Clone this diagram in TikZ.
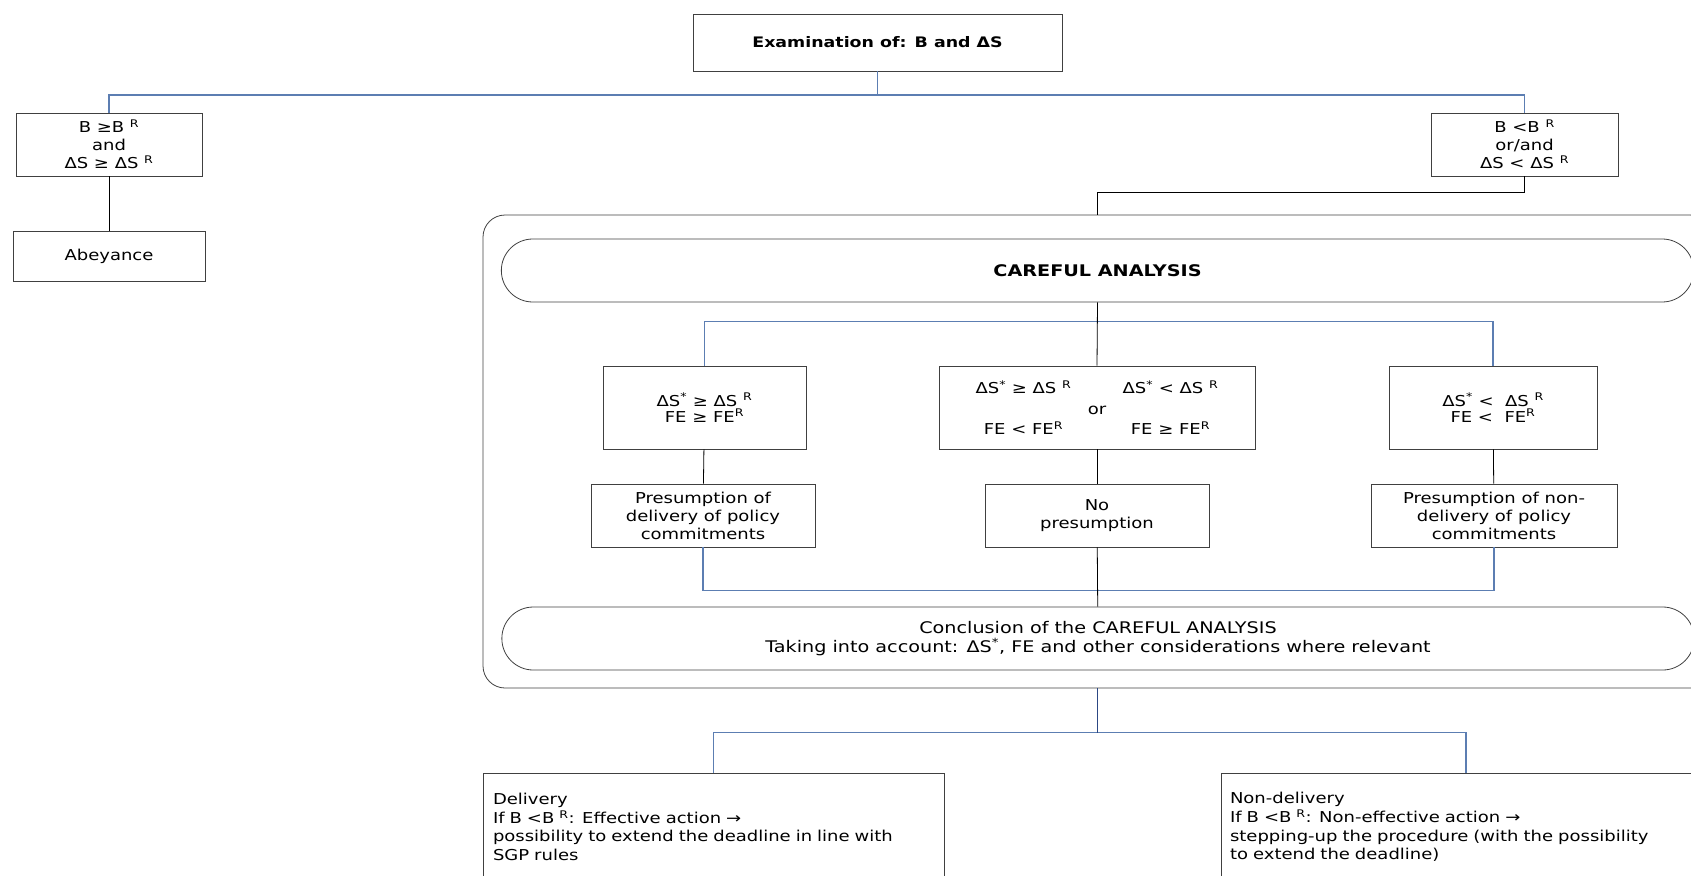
\documentclass[tikz,border=0pt]{standalone}
\usepackage{fontspec}
\setmainfont{DejaVu Sans}[FakeStretch=1.2]
\usetikzlibrary{positioning,shapes.misc}
\definecolor{linkblue}{RGB}{92,126,178}
\definecolor{darkblue}{RGB}{44,72,132}
\definecolor{edgegray}{RGB}{64,64,64}

\begin{document}
\begin{tikzpicture}[x=1pt, y=-1pt,
  cbox/.style={draw=edgegray, line width=0.8pt, align=center, inner sep=2pt, font=\fontsize{15}{18}\selectfont},
  pill/.style={draw=edgegray, line width=0.8pt, rounded rectangle, minimum width=1199pt, minimum height=63pt, align=center},
  outcome/.style={draw=edgegray, line width=0.8pt, align=left, inner sep=0pt, minimum height=108pt, font=\fontsize{15}{18.7}\selectfont},
  bline/.style={draw=linkblue, line width=1.1pt},
  dline/.style={draw=darkblue, line width=1.1pt},
  kline/.style={draw=black, line width=0.8pt}
]
\useasboundingbox (0,0) rectangle (1691,875);
\clip (0,0) rectangle (1691,875);

\node[cbox, minimum width=369pt, minimum height=57pt, font=\fontsize{14.5}{18}\selectfont\bfseries] (exam) at (877.5,42.5) {Examination of: B and ΔS};
\node[cbox, minimum width=186pt, minimum height=63pt] (cond1) at (109,144.5) {B ≥B \textsuperscript{R}\\and\\ ΔS ≥ ΔS \textsuperscript{R}};
\node[cbox, minimum width=192pt, minimum height=50pt] (abey) at (109,256) {Abeyance};
\node[cbox, minimum width=187pt, minimum height=63pt] (cond2) at (1524.5,144.5) {B <B \textsuperscript{R}\\or/and\\ ΔS < ΔS \textsuperscript{R}};

\node[draw=edgegray, line width=0.8pt, rounded corners=22pt, minimum width=1229pt, minimum height=473pt] (outer) at (1097.5,451.5) {};
\node[pill, font=\fontsize{16}{18}\selectfont\bfseries] (careful) at (1097.5,270.5) {CAREFUL ANALYSIS};

\node[cbox, minimum width=203pt, minimum height=83pt, font=\fontsize{15}{16}\selectfont] (starA) at (704.5,407.5) {ΔS\textsuperscript{*} ≥ ΔS \textsuperscript{R}\\FE ≥ FE\textsuperscript{R}};
\node[cbox, minimum width=316pt, minimum height=83pt, font=\fontsize{15}{20.5}\selectfont] (starB) at (1097,407.5)
  {\makebox[122pt]{ΔS\textsuperscript{*} ≥ ΔS \textsuperscript{R}}\makebox[25pt]{}\makebox[122pt]{ΔS\textsuperscript{*} < ΔS \textsuperscript{R}}\\
   or\\
   \makebox[122pt]{FE < FE\textsuperscript{R}}\makebox[25pt]{}\makebox[122pt]{FE ≥ FE\textsuperscript{R}}};
\node[cbox, minimum width=208pt, minimum height=83pt, font=\fontsize{15}{16}\selectfont] (starC) at (1493,407.5) {ΔS\textsuperscript{*} <\ \ ΔS \textsuperscript{R}\\FE <\ \ FE\textsuperscript{R}};

\node[cbox, minimum width=224pt, minimum height=63pt] (presA) at (703,515.5) {Presumption of\\delivery of policy\\commitments};
\node[cbox, minimum width=224pt, minimum height=63pt] (presB) at (1097,515.5) {No\\presumption};
\node[cbox, minimum width=246pt, minimum height=63pt] (presC) at (1494,515.5) {Presumption of non-\\delivery of policy\\commitments};

\node[pill, font=\fontsize{16}{19.4}\selectfont] (concl) at (1098,638.5) {Conclusion of the CAREFUL ANALYSIS\\Taking into account: ΔS\textsuperscript{*}, FE and other considerations where relevant};

\node[outcome, minimum width=461pt, text width=441pt] (deliv) at (713.5,827) {Delivery\\If B <B \textsuperscript{R}: Effective action →\\possibility to extend the deadline in line with\\SGP rules};
\node[outcome, minimum width=490pt, text width=472pt] (nondeliv) at (1466,827) {Non-delivery\\If B <B \textsuperscript{R}: Non-effective action →\\stepping-up the procedure (with the possibility\\to extend the deadline)};

\coordinate (splitTop) at (877.5,95);
\coordinate (splitBot) at (1097.5,733);

\draw[bline] (exam) -- (splitTop);
\draw[bline] (splitTop) -| (cond1);
\draw[bline] (splitTop) -| (cond2);
\draw[kline] (cond1) -- (abey);
\draw[kline] (cond2.south) -- ++(0,16) -| (outer.north);

\draw[bline] (starA.north) -- ++(0,-44) -| (starC.north);
\draw[kline] (careful.south) -- (starB.north);
\draw[kline] (starA) -- (presA);
\draw[kline] (starB) -- (presB);
\draw[kline] (starC) -- (presC);
\draw[bline] (presA.south) -- ++(0,43) -| (presC.south);
\draw[kline] (presB) -- (concl);

\draw[bline] (deliv.north) -- ++(0,-40) -| (nondeliv.north);
\draw[dline] (outer.south) -- (splitBot);
\end{tikzpicture}
\end{document}
